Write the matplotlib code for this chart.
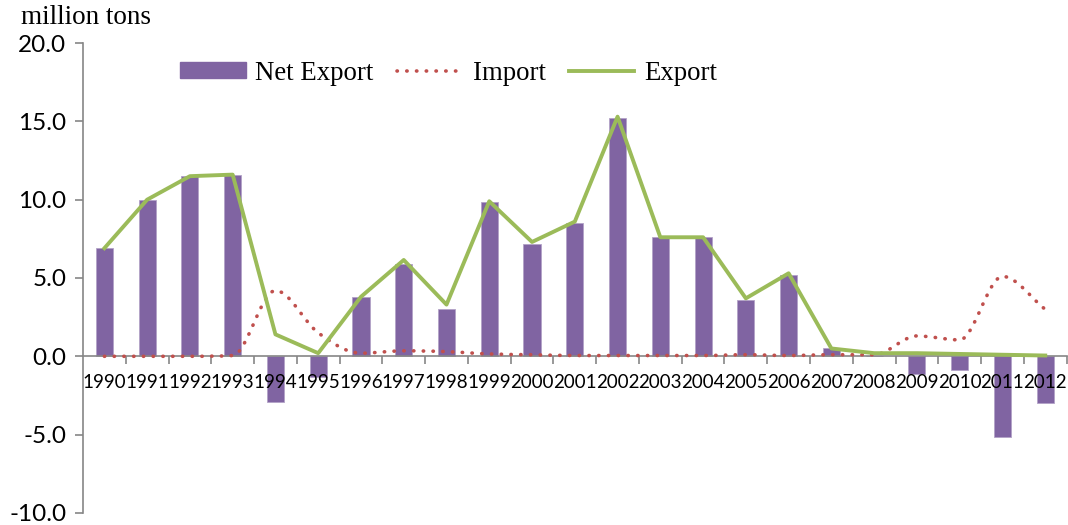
import numpy as np
import matplotlib.pyplot as plt
from matplotlib.path import Path
from matplotlib.patches import PathPatch
from matplotlib.lines import Line2D
from matplotlib.ticker import FormatStrFormatter

years = [str(y) for y in range(1990, 2013)]
net_export = [6.9, 10.0, 11.5, 11.6, -2.9, -1.35, 3.8, 5.9, 3.05, 9.85, 7.2, 8.5,
              15.2, 7.6, 7.6, 3.6, 5.2, 0.5, 0.05, -1.15, -0.9, -5.15, -2.95]
imports = [0.0, 0.0, 0.0, 0.05, 4.2, 1.5, 0.2, 0.35, 0.3, 0.15, 0.1, 0.05,
           0.05, 0.05, 0.05, 0.1, 0.05, 0.1, 0.1, 1.3, 1.05, 5.1, 3.0]
exports = [6.9, 10.0, 11.5, 11.6, 1.4, 0.2, 3.8, 6.15, 3.3, 9.9, 7.3, 8.6,
           15.3, 7.6, 7.6, 3.7, 5.3, 0.5, 0.2, 0.2, 0.15, 0.1, 0.05]

purple = '#8064A2'
red = '#C0504D'
green = '#9BBB59'
axis_gray = '#868686'


def smooth_path(xs, ys):
    # cubic bezier through the points, flat tangents at turning points
    xs = np.asarray(xs, float)
    ys = np.asarray(ys, float)
    n = len(xs)
    m = np.zeros(n)
    for i in range(n):
        lo, hi = max(i - 1, 0), min(i + 1, n - 1)
        d1 = ys[i] - ys[lo]
        d2 = ys[hi] - ys[i]
        if i in (0, n - 1) or d1 * d2 > 0:
            m[i] = (ys[hi] - ys[lo]) / (xs[hi] - xs[lo])
            if i not in (0, n - 1):
                lim = 3 * min(abs(d1), abs(d2))
                m[i] = np.sign(m[i]) * min(abs(m[i]), lim)
    verts = [(xs[0], ys[0])]
    codes = [Path.MOVETO]
    for i in range(n - 1):
        h = xs[i + 1] - xs[i]
        verts += [(xs[i] + h / 3, ys[i] + m[i] * h / 3),
                  (xs[i + 1] - h / 3, ys[i + 1] - m[i + 1] * h / 3),
                  (xs[i + 1], ys[i + 1])]
        codes += [Path.CURVE4] * 3
    return Path(verts, codes)


fig = plt.figure(figsize=(10.68, 5.25), dpi=100)
ax = fig.add_axes([0.0777, 0.023, 0.921, 0.895])

x = np.arange(len(years))
ax.bar(x, net_export, width=0.4, color=purple, edgecolor='#B3A2C7', linewidth=0.6, zorder=2)

imp = PathPatch(smooth_path(x, imports), fill=False, edgecolor=red, linewidth=2.6,
                linestyle=(0, (0.1, 2.6)), capstyle='round', zorder=3)
ax.add_patch(imp)

ax.plot(x, exports, color=green, linewidth=2.8, zorder=4)

ax.set_xlim(-0.5, len(years) - 0.5)
ax.set_ylim(-10, 20)
ax.set_yticks([-10, -5, 0, 5, 10, 15, 20])
ax.yaxis.set_major_formatter(FormatStrFormatter('%.1f'))
ax.set_axisbelow(False)

for s in ['top', 'right']:
    ax.spines[s].set_visible(False)
ax.spines['bottom'].set_position(('data', 0))
ax.spines['bottom'].set_color(axis_gray)
ax.spines['left'].set_color(axis_gray)
ax.spines['bottom'].set_linewidth(1.2)
ax.spines['left'].set_linewidth(1.2)
ax.spines['bottom'].set_zorder(2.5)

ax.set_xticks(x)
ax.set_xticklabels(years, fontfamily='Lato', fontsize=13.5)
ax.set_xticks(np.arange(0.5, len(years), 1.0), minor=True)
ax.tick_params(axis='x', which='major', length=0, pad=13)
ax.tick_params(axis='x', which='minor', length=6, width=1.2, color=axis_gray, direction='out')
ax.tick_params(axis='y', length=6, width=1.2, color=axis_gray, labelsize=17.5, pad=6)
for lab in ax.get_yticklabels():
    lab.set_fontfamily('Lato')

fig.text(0.02, 0.967, 'million tons', fontfamily='Liberation Serif', fontsize=19.5,
         va='center', ha='left')

handles = [
    plt.Rectangle((0, 0), 1, 1, color=purple),
    Line2D([], [], color=red, linewidth=2.6, linestyle=(0, (0.1, 2.6)), dash_capstyle='round'),
    Line2D([], [], color=green, linewidth=2.8),
]
ax.legend(handles, ['Net Export', 'Import', 'Export'], ncol=3, frameon=False,
          loc='center left', bbox_to_anchor=(0.074, 0.936),
          prop={'family': 'Liberation Serif', 'size': 19.3},
          handlelength=2.45, handleheight=0.5, handletextpad=0.37, columnspacing=0.86)

fig.savefig('out.png', dpi=100)
